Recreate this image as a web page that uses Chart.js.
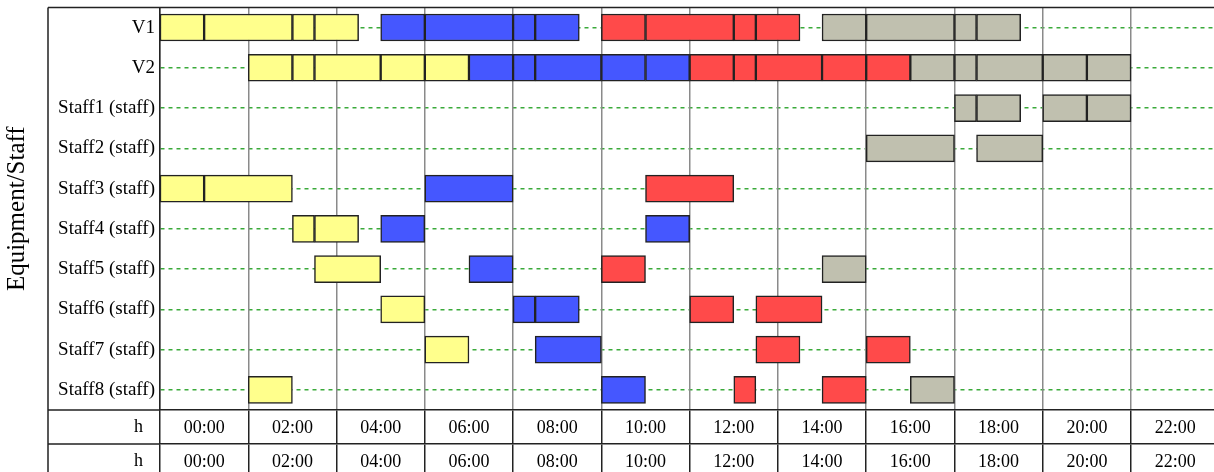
<!DOCTYPE html>
<html>
<head>
<meta charset="utf-8">
<title>Equipment/Staff schedule</title>
<script src="https://cdn.jsdelivr.net/npm/chart.js@4.4.1/dist/chart.umd.min.js"></script>
<style>
  body { margin: 0; background: #fff; }
  #wrap { width: 1214px; height: 472px; }
</style>
</head>
<body>
<div id="wrap"><canvas id="gantt"></canvas></div>
<script>
// Rows and time labels
const rows = [
  "V1", "V2",
  "Staff1 (staff)", "Staff2 (staff)", "Staff3 (staff)", "Staff4 (staff)",
  "Staff5 (staff)", "Staff6 (staff)", "Staff7 (staff)", "Staff8 (staff)"
];
const hourLabels = ["00:00", "02:00", "04:00", "06:00", "08:00", "10:00",
  "12:00", "14:00", "16:00", "18:00", "20:00", "22:00"];
const unitLabel = "h";
const axisTitle = "Equipment/Staff";
const maxHour = 23.88;

// Tasks: [row index, start hour, end hour]
const yellowTasks = [
  [0, 0, 1], [0, 1, 3], [0, 3, 3.5], [0, 3.5, 4.5],
  [1, 2, 3], [1, 3, 3.5], [1, 3.5, 5], [1, 5, 6], [1, 6, 7],
  [4, 0, 1], [4, 1, 3],
  [5, 3, 3.5], [5, 3.5, 4.5],
  [6, 3.5, 5],
  [7, 5, 6],
  [8, 6, 7],
  [9, 2, 3]
];
const blueTasks = [
  [0, 5, 6], [0, 6, 8], [0, 8, 8.5], [0, 8.5, 9.5],
  [1, 7, 8], [1, 8, 8.5], [1, 8.5, 10], [1, 10, 11], [1, 11, 12],
  [4, 6, 8],
  [5, 5, 6], [5, 11, 12],
  [6, 7, 8],
  [7, 8, 8.5], [7, 8.5, 9.5],
  [8, 8.5, 10],
  [9, 10, 11]
];
const redTasks = [
  [0, 10, 11], [0, 11, 13], [0, 13, 13.5], [0, 13.5, 14.5],
  [1, 12, 13], [1, 13, 13.5], [1, 13.5, 15], [1, 15, 16], [1, 16, 17],
  [4, 11, 13],
  [6, 10, 11],
  [7, 12, 13], [7, 13.5, 15],
  [8, 13.5, 14.5], [8, 16, 17],
  [9, 13, 13.5], [9, 15, 16]
];
const grayTasks = [
  [0, 15, 16], [0, 16, 18], [0, 18, 18.5], [0, 18.5, 19.5],
  [1, 17, 18], [1, 18, 18.5], [1, 18.5, 20], [1, 20, 21], [1, 21, 22],
  [2, 18, 18.5], [2, 18.5, 19.5], [2, 20, 21], [2, 21, 22],
  [3, 16, 18], [3, 18.5, 20],
  [6, 15, 16],
  [9, 17, 18]
];

const serif = "'Liberation Serif', 'Times New Roman', serif";

function toBars(tasks) {
  return tasks.map(t => ({ x: [t[1], t[2]], y: rows[t[0]] }));
}

function makeSet(tasks, color) {
  return {
    data: toBars(tasks),
    backgroundColor: color,
    borderColor: "#222",
    borderWidth: 1.5,
    borderSkipped: false,
    barThickness: 27,
    grouped: false
  };
}

// ticks in the middle of each 2h column, grid lines on the column edges
function columnTicks(scale) {
  scale.ticks = hourLabels.map((l, i) => ({ value: i * 2 + 1 }));
}

function timeAxis(onChart, weight, height) {
  return {
    type: "linear",
    position: "bottom",
    weight: weight,
    min: 0,
    max: maxHour,
    afterBuildTicks: columnTicks,
    afterFit: s => { s.height = height; },
    grid: {
      offset: true,
      drawOnChartArea: onChart,
      color: "#8a8a8a",
      lineWidth: 1.5,
      tickColor: "#222",
      tickWidth: 1.5,
      tickLength: 34
    },
    border: { display: true, color: "#222", width: 1.5 },
    ticks: {
      autoSkip: false,
      maxRotation: 0,
      padding: -26.8,
      color: "#000",
      font: { family: serif, size: 18 },
      callback: (v, i) => hourLabels[i]
    }
  };
}

// frame of the left column and the "h" labels of the time rows
const tableFrame = {
  id: "tableFrame",
  afterDraw(chart) {
    const { ctx, chartArea, scales } = chart;
    const left = chartArea.left - 112;
    const timeRows = [scales.x, scales.x2];
    ctx.save();
    ctx.strokeStyle = "#222";
    ctx.lineWidth = 1.5;
    ctx.beginPath();
    ctx.moveTo(left, chartArea.top);
    ctx.lineTo(chart.width, chartArea.top);
    ctx.moveTo(left, chartArea.top);
    ctx.lineTo(left, chart.height);
    timeRows.forEach(s => {
      ctx.moveTo(left, s.top);
      ctx.lineTo(chartArea.left, s.top);
    });
    ctx.stroke();
    ctx.font = "18px " + serif;
    ctx.fillStyle = "#000";
    ctx.textAlign = "right";
    ctx.textBaseline = "middle";
    timeRows.forEach(s => ctx.fillText(unitLabel, chartArea.left - 17, s.top + 17));
    ctx.restore();
  }
};

new Chart(document.getElementById("gantt"), {
  type: "bar",
  data: {
    labels: rows,
    datasets: [
      makeSet(yellowTasks, "#ffff8c"),
      makeSet(blueTasks, "#4557ff"),
      makeSet(redTasks, "#ff4a4a"),
      makeSet(grayTasks, "#c0c0af")
    ]
  },
  options: {
    indexAxis: "y",
    responsive: true,
    maintainAspectRatio: false,
    animation: false,
    layout: { padding: { top: 7.4, left: 0, right: 0, bottom: 0 } },
    plugins: {
      legend: { display: false },
      tooltip: { enabled: false }
    },
    scales: {
      y: {
        type: "category",
        labels: rows,
        offset: true,
        afterFit: s => {
          s.width = 160;
          s.paddingTop = 0;
          s.paddingBottom = 0;
        },
        grid: {
          offset: false,
          drawTicks: false,
          color: "#3aaa3a",
          lineWidth: 1.5
        },
        border: { display: true, color: "#222", width: 1.5, dash: [4, 4] },
        ticks: {
          padding: 5,
          color: "#000",
          font: { family: serif, size: 19 }
        },
        title: {
          display: true,
          text: axisTitle,
          color: "#000",
          padding: { top: 2, bottom: 0 },
          font: { family: serif, size: 25, weight: "normal" }
        }
      },
      x: timeAxis(true, 0, 34),
      x2: timeAxis(false, 1, 28)
    }
  },
  plugins: [tableFrame]
});
</script>
</body>
</html>
